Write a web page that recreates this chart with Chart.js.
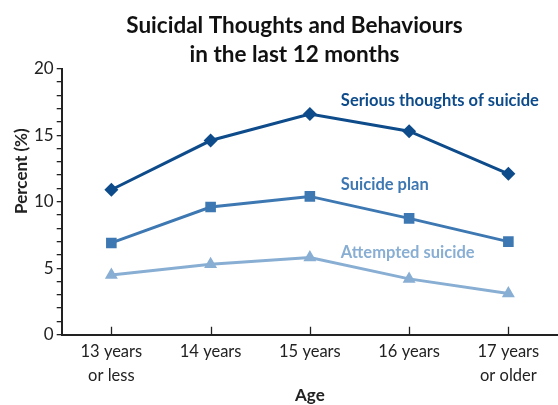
<!DOCTYPE html>
<html lang="en">
<head>
    <meta charset="UTF-8">
    <title>Suicidal Thoughts and Behaviours</title>
    <script src="https://cdn.jsdelivr.net/npm/chart.js"></script>
    <style>
        body { margin: 0; background: #fff; }
        #wrap { width: 558px; height: 405px; }
    </style>
</head>
<body>
    <div id="wrap"><canvas id="chart" width="558" height="405"></canvas></div>

    <script>
        const ages = [["13 years", "or less"], "14 years", "15 years", "16 years", ["17 years", "or older"]];
        const seriousThoughts = [10.9, 14.6, 16.6, 15.3, 12.1];
        const suicidePlan = [6.9, 9.6, 10.4, 8.75, 7.0];
        const attempted = [4.5, 5.3, 5.8, 4.2, 3.1];
        const seriesNames = ["Serious thoughts of suicide", "Suicide plan", "Attempted suicide"];
        const seriesColors = ["#0d4b8b", "#3e78b2", "#88aed3"];
        // where each name sits, in percent units
        const nameLevels = [17.6, 11.25, 6.2];

        const font = "Lato, 'Noto Sans', sans-serif";
        const ink = "#222";

        // upward ticks on the x axis, the y title and the series names
        const extras = {
            id: "extras",
            afterDraw(chart) {
                const ctx = chart.ctx;
                const x = chart.scales.x, y = chart.scales.y;
                ctx.save();
                ctx.strokeStyle = ink;
                ctx.lineWidth = 1.3;
                ages.forEach((a, i) => {
                    const px = Math.round(x.getPixelForValue(i)) + 0.5;
                    ctx.beginPath();
                    ctx.moveTo(px, y.bottom);
                    ctx.lineTo(px, y.bottom - 8);
                    ctx.stroke();
                });

                // y title sits above the middle of the axis in the original
                ctx.save();
                ctx.translate(22, y.getPixelForValue(12.3));
                ctx.rotate(-Math.PI / 2);
                ctx.font = "bold 17px " + font;
                ctx.fillStyle = ink;
                ctx.textAlign = "center";
                ctx.textBaseline = "middle";
                ctx.fillText("Percent (%)", 0, 0);
                ctx.restore();

                ctx.font = "bold 16.5px " + font;
                ctx.textBaseline = "middle";
                ctx.textAlign = "left";
                const lx = x.getPixelForValue(2) + 31;
                seriesNames.forEach((n, i) => {
                    ctx.fillStyle = seriesColors[i];
                    ctx.fillText(n, lx, y.getPixelForValue(nameLevels[i]));
                });
                ctx.restore();
            }
        };

        function series(label, data, color, style, radius) {
            return {
                label: label,
                data: data,
                borderColor: color,
                backgroundColor: color,
                borderWidth: 3,
                pointStyle: style,
                pointRadius: radius,
                pointHoverRadius: radius,
                pointBorderWidth: 0,
                tension: 0,
                fill: false
            };
        }

        new Chart(document.getElementById("chart").getContext("2d"), {
            type: "line",
            data: {
                labels: ages,
                datasets: [
                    series(seriesNames[0], seriousThoughts, seriesColors[0], "rectRot", 7),
                    series(seriesNames[1], suicidePlan, seriesColors[1], "rect", 7.5),
                    series(seriesNames[2], attempted, seriesColors[2], "triangle", 7.5)
                ]
            },
            options: {
                responsive: false,
                animation: false,
                events: [],
                layout: { autoPadding: false, padding: { left: 31, right: 0, top: 0, bottom: 0 } },
                plugins: {
                    legend: { display: false },
                    tooltip: { enabled: false },
                    title: {
                        display: true,
                        text: ["Suicidal Thoughts and Behaviours", "in the last 12 months"],
                        color: "#111",
                        font: { family: font, size: 22.5, weight: "bold", lineHeight: 1.26 },
                        padding: { top: 12, bottom: 0 }
                    }
                },
                scales: {
                    x: {
                        offset: true,
                        grid: { display: false, drawTicks: false },
                        border: { display: true, color: ink, width: 2 },
                        ticks: {
                            color: ink,
                            font: { family: font, size: 16.5, lineHeight: 1.45 },
                            maxRotation: 0,
                            padding: 5
                        },
                        title: {
                            display: true,
                            text: "Age",
                            color: ink,
                            font: { family: font, size: 17, weight: "bold" },
                            padding: { top: -7, bottom: -1 }
                        }
                    },
                    y: {
                        min: 0,
                        max: 20,
                        grid: { drawOnChartArea: false, color: ink, tickLength: 5, lineWidth: 1.3 },
                        border: { display: true, color: ink, width: 2 },
                        ticks: {
                            stepSize: 1,
                            autoSkip: false,
                            color: ink,
                            font: { family: font, size: 17 },
                            padding: 3,
                            callback: v => (v % 5 === 0 ? v : "")
                        }
                    }
                }
            },
            plugins: [extras]
        });
    </script>
</body>
</html>
